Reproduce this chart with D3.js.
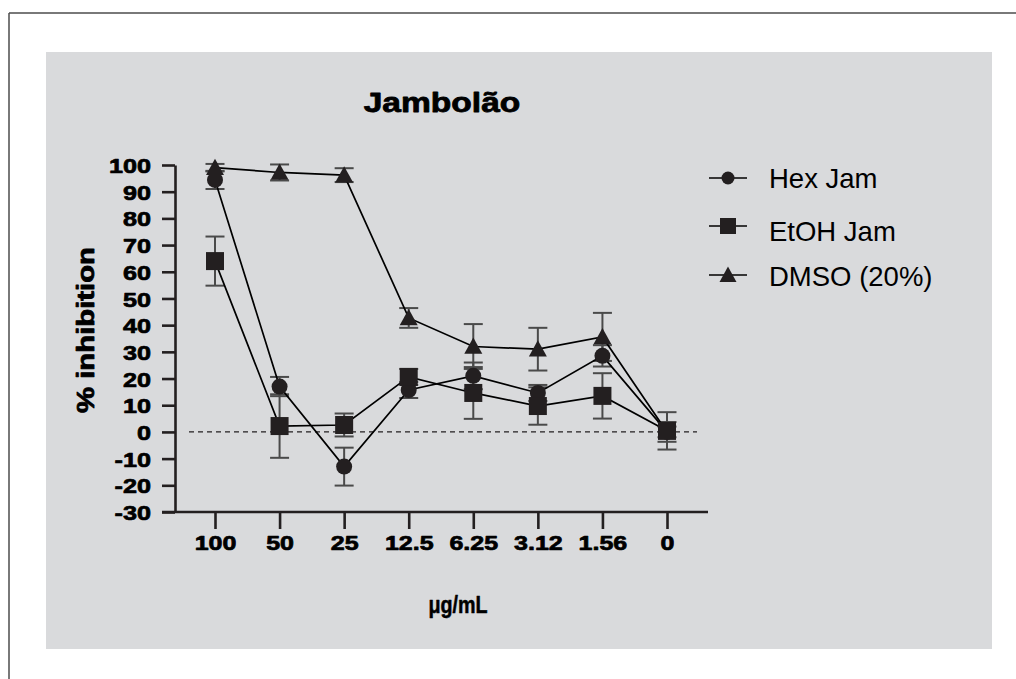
<!DOCTYPE html>
<html>
<head>
<meta charset="utf-8">
<script src="https://cdn.jsdelivr.net/npm/d3@7"></script>
<style>
  html, body { margin: 0; padding: 0; background: #ffffff; }
  svg { display: block; }
</style>
</head>
<body>
<svg id="chart" width="1016" height="679"></svg>
<script>
// Concentrations on the x axis (categorical, evenly spaced)
const concentrations = ["100", "50", "25", "12.5", "6.25", "3.12", "1.56", "0"];

// % inhibition means and error (±) per series
const hexJam = [94.4, 17, -13, 15.7, 21, 14.6, 28.5, 0];
const hexJamErr = [3.4, 3.6, 7.1, 3, 5, 3, 4, 3.7];

const etohJam = [64, 2.2, 2.6, 20.6, 14.6, 9.7, 13.5, 0.4];
const etohJamErr = [9.2, 11.9, 4.3, 3, 9.7, 7, 8.5, 7];

const dmso = [99, 97.2, 96.2, 42.7, 32, 31, 35.6, 0];
const dmsoErr = [1.4, 3, 2.6, 3.7, 8.4, 8, 9, 2];

const yTicks = [100, 90, 80, 70, 60, 50, 40, 30, 20, 10, 0, -10, -20, -30];

const seriesNames = ["Hex Jam", "EtOH Jam", "DMSO (20%)"];

const ink = "#231f20";
const barInk = "#4a4a4a";
const panelFill = "#d9dadc";

const svg = d3.select("#chart");

// widen bold labels horizontally and thicken strokes (heavy display look)
function heavy(sel, k, w) {
  sel.attr("stroke", "#000").attr("stroke-width", w).attr("stroke-linejoin", "round");
  sel.each(function () {
    const len = this.getComputedTextLength();
    this.setAttribute("textLength", len * k);
    this.setAttribute("lengthAdjust", "spacingAndGlyphs");
  });
}

// outer frame lines
svg.append("line").attr("x1", 9).attr("x2", 1016).attr("y1", 13).attr("y2", 13)
  .attr("stroke", "#4d4d4d").attr("stroke-width", 1.5);
svg.append("line").attr("x1", 9).attr("x2", 9).attr("y1", 13).attr("y2", 679)
  .attr("stroke", "#4d4d4d").attr("stroke-width", 1.5);

// gray panel
svg.append("rect").attr("x", 46).attr("y", 52).attr("width", 946).attr("height", 597)
  .attr("fill", panelFill);

const x = d3.scalePoint().domain(concentrations).range([215, 667]);
const y = d3.scaleLinear().domain([-30, 100]).range([512, 165]);

const labelFont = "'Liberation Sans', Arial, sans-serif";

// y axis
const yAxis = svg.append("g").attr("transform", "translate(175,0)")
  .call(d3.axisLeft(y).tickValues(yTicks).tickFormat(d => String(d))
    .tickSize(13).tickSizeOuter(0).tickPadding(11));
yAxis.select(".domain").attr("stroke", ink).attr("stroke-width", 2.6);
yAxis.selectAll(".tick line").attr("stroke", ink).attr("stroke-width", 2.6);
yAxis.selectAll(".tick text")
  .attr("font-family", labelFont).attr("font-weight", "bold").attr("font-size", 21)
  .attr("fill", "#000").attr("dy", "0.36em")
  .call(heavy, 1.2, 0.7);

// x axis
const xAxis = svg.append("g").attr("transform", "translate(0,512)")
  .call(d3.axisBottom(x).tickSize(17).tickSizeOuter(0).tickPadding(7));
xAxis.select(".domain").attr("d", "M162,0H708").attr("stroke", ink).attr("stroke-width", 2.6);
xAxis.selectAll(".tick line").attr("stroke", ink).attr("stroke-width", 2.6);
xAxis.selectAll(".tick text")
  .attr("font-family", labelFont).attr("font-weight", "bold").attr("font-size", 20)
  .attr("fill", "#000").attr("dy", "0.71em")
  .call(heavy, 1.25, 0.7);

// zero reference line
svg.append("line")
  .attr("x1", 189).attr("x2", 697).attr("y1", y(0)).attr("y2", y(0))
  .attr("stroke", ink).attr("stroke-width", 1.2).attr("stroke-dasharray", "5,4");

// titles
svg.append("text").attr("x", 442).attr("y", 112).attr("text-anchor", "middle")
  .attr("font-family", labelFont).attr("font-weight", "bold").attr("font-size", 27.5)
  .attr("fill", "#000").text("Jambolão").call(heavy, 1.22, 0.8);

svg.append("text").attr("transform", "translate(94,330) rotate(-90)")
  .attr("text-anchor", "middle")
  .attr("font-family", labelFont).attr("font-weight", "bold").attr("font-size", 24)
  .attr("fill", "#000").text("% inhibition").call(heavy, 1.22, 0.8);

svg.append("text").attr("x", 458).attr("y", 613).attr("text-anchor", "middle")
  .attr("font-family", labelFont).attr("font-weight", "bold").attr("font-size", 24)
  .attr("fill", "#000").text("μg/mL").call(heavy, 0.82, 0.5);

// series definitions
const series = [
  { name: seriesNames[0], values: hexJam, err: hexJamErr, shape: "circle" },
  { name: seriesNames[1], values: etohJam, err: etohJamErr, shape: "square" },
  { name: seriesNames[2], values: dmso, err: dmsoErr, shape: "triangle" }
];

function points(s) {
  return concentrations.map((c, i) => ({ c, v: s.values[i], e: s.err[i] }));
}

// error bars
const capHalf = 9.5;
series.forEach(s => {
  const g = svg.append("g").attr("stroke", barInk).attr("stroke-width", 2);
  points(s).forEach(p => {
    const cx = x(p.c);
    g.append("line").attr("x1", cx).attr("x2", cx).attr("y1", y(p.v - p.e)).attr("y2", y(p.v + p.e));
    g.append("line").attr("x1", cx - capHalf).attr("x2", cx + capHalf).attr("y1", y(p.v + p.e)).attr("y2", y(p.v + p.e));
    g.append("line").attr("x1", cx - capHalf).attr("x2", cx + capHalf).attr("y1", y(p.v - p.e)).attr("y2", y(p.v - p.e));
  });
});

// connecting lines
const line = d3.line().x(d => x(d.c)).y(d => y(d.v));
series.forEach(s => {
  svg.append("path").datum(points(s)).attr("d", line)
    .attr("fill", "none").attr("stroke", "#000").attr("stroke-width", 1.7);
});

// marker shapes
function drawMarker(g, shape, cx, cy, size) {
  if (shape === "circle") {
    g.append("circle").attr("cx", cx).attr("cy", cy).attr("r", size / 2).attr("fill", ink);
  } else if (shape === "square") {
    g.append("rect").attr("x", cx - size / 2).attr("y", cy - size / 2)
      .attr("width", size).attr("height", size).attr("fill", ink);
  } else {
    const h = size * 0.9;
    g.append("path")
      .attr("d", `M${cx},${cy - h * 0.55}L${cx + size / 2},${cy + h * 0.45}L${cx - size / 2},${cy + h * 0.45}Z`)
      .attr("fill", ink);
  }
}

// markers: circles, then triangles, then squares on top
const markerOrder = [0, 2, 1];
const markerSize = { circle: 16, square: 18, triangle: 18 };
markerOrder.forEach(k => {
  const s = series[k];
  const g = svg.append("g");
  points(s).forEach(p => drawMarker(g, s.shape, x(p.c), y(p.v), markerSize[s.shape]));
});

// legend
const legendSymbolY = [178, 226, 275];
const legendTextY = [178, 231, 276];
const legendSize = { circle: 13, square: 16, triangle: 17 };
series.forEach((s, i) => {
  const g = svg.append("g");
  g.append("line").attr("x1", 709).attr("x2", 747)
    .attr("y1", legendSymbolY[i]).attr("y2", legendSymbolY[i])
    .attr("stroke", "#000").attr("stroke-width", 1.7);
  drawMarker(g, s.shape, 728, legendSymbolY[i], legendSize[s.shape]);
  g.append("text").attr("x", 769).attr("y", legendTextY[i]).attr("dy", "0.36em")
    .attr("font-family", labelFont).attr("font-size", 27.5).attr("fill", "#000")
    .text(s.name);
});
</script>
</body>
</html>
